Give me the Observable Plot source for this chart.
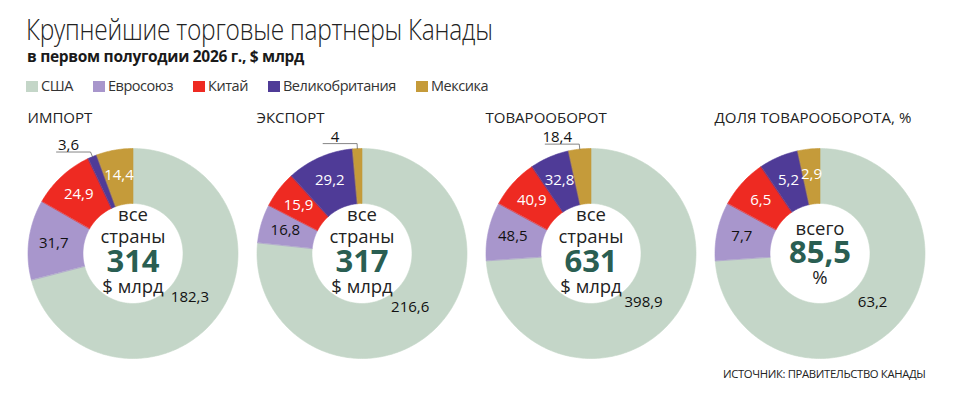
<!DOCTYPE html>
<html>
<head>
<meta charset="utf-8">
<script src="https://cdn.jsdelivr.net/npm/d3@7"></script>
<script src="https://cdn.jsdelivr.net/npm/@observablehq/plot@0.6"></script>
<style>
  html, body { margin: 0; padding: 0; background: #fff; }
  body { width: 960px; height: 403px; position: relative; overflow: hidden; font-family: "Open Sans", sans-serif; color: #1a1a1a; }
  .title { position: absolute; left: 26px; top: 14px; font-size: 29px; line-height: 1; font-weight: 300; letter-spacing: -0.3px; white-space: nowrap; color: #222; transform: scaleX(0.845); transform-origin: 0 0; }
  .subtitle { position: absolute; left: 27px; top: 49px; font-size: 15.5px; line-height: 1; font-weight: 700; letter-spacing: -0.3px; white-space: nowrap; }
  .legend { position: absolute; left: 26px; top: 78px; display: flex; gap: 20px; font-size: 14.5px; line-height: 16px; letter-spacing: -0.45px; white-space: nowrap; color: #333; }
  .legend .item { display: flex; align-items: center; gap: 3px; }
  .legend .sw { width: 12px; height: 11px; display: inline-block; }
  #chart { position: absolute; left: 0; top: 100px; }
  .source { position: absolute; left: 723px; top: 368px; font-size: 11.3px; line-height: 1; letter-spacing: -0.35px; white-space: nowrap; color: #222; }
</style>
</head>
<body>
<div class="title">Крупнейшие торговые партнеры Канады</div>
<div class="subtitle">в первом полугодии 2026 г., $ млрд</div>
<div class="legend" id="legend"></div>
<div id="chart"></div>
<div class="source">ИСТОЧНИК: ПРАВИТЕЛЬСТВО КАНАДЫ</div>
<script>
// ---- data ----
const partners = ["США", "Евросоюз", "Китай", "Великобритания", "Мексика"];
const partnerColors = ["#c4d6c8", "#a896cc", "#ee2a22", "#4f3b97", "#c59b3a"];
const panels = ["ИМПОРТ", "ЭКСПОРТ", "ТОВАРООБОРОТ", "ДОЛЯ ТОВАРООБОРОТА, %"];
const importValues = [182.3, 31.7, 24.9, 3.6, 14.4];
const exportValues = [216.6, 16.8, 15.9, 29.2, 4];
const tradeValues = [398.9, 48.5, 40.9, 32.8, 18.4];
const shareValues = [63.2, 7.7, 6.5, 5.2, 2.9];
const totalLabels = ["314", "317", "631", "85,5"];
const centerTopLines = [["все", "страны"], ["все", "страны"], ["все", "страны"], ["всего"]];
const centerBottomLines = ["$ млрд", "$ млрд", "$ млрд", "%"];

// ---- layout ----
const R_OUT = 105, R_IN = 50, R_LABEL = 80, R_LABEL_BIG = 72;
const darkPartners = new Set(["Китай", "Великобритания", "Мексика"]);
const fmt = v => String(v).replace(".", ",");
const panelValues = [importValues, exportValues, tradeValues, shareValues];

// legend
const legend = document.getElementById("legend");
partners.forEach((p, i) => {
  const it = document.createElement("div");
  it.className = "item";
  it.innerHTML = `<span class="sw" style="background:${partnerColors[i]}"></span><span>${p}</span>`;
  legend.appendChild(it);
});

// build slice polygons, labels, leaders
const slicePts = [];
const labelsIn = [];
const labelsOut = [];
const leaderPts = [];
panels.forEach((panel, pi) => {
  const vals = panelValues[pi];
  const sum = d3.sum(vals);
  let acc = 0;
  vals.forEach((v, i) => {
    const a0 = acc / sum * 2 * Math.PI;
    acc += v;
    const a1 = acc / sum * 2 * Math.PI;
    const key = panel + "|" + partners[i];
    const n = Math.max(2, Math.ceil((a1 - a0) / (Math.PI / 180)));
    for (let k = 0; k <= n; k++) {
      const a = a0 + (a1 - a0) * k / n;
      slicePts.push({panel, partner: partners[i], key, x: R_OUT * Math.sin(a), y: R_OUT * Math.cos(a)});
    }
    for (let k = n; k >= 0; k--) {
      const a = a0 + (a1 - a0) * k / n;
      slicePts.push({panel, partner: partners[i], key, x: R_IN * Math.sin(a), y: R_IN * Math.cos(a)});
    }
    const am = (a0 + a1) / 2;
    const frac = v / sum;
    const text = fmt(v);
    const outside = frac < 0.02 || (frac < 0.05 && text.length > 3);
    if (outside) {
      const ex = R_OUT * Math.sin(am), ey = R_OUT * Math.cos(am);
      const bx = (R_OUT + 5) * Math.sin(am), by = (R_OUT + 5) * Math.cos(am);
      leaderPts.push({panel, key, x: ex, y: ey});
      leaderPts.push({panel, key, x: bx, y: by});
      leaderPts.push({panel, key, x: bx - 34, y: by});
      labelsOut.push({panel, text, x: bx - 22, y: by + 2});
    } else {
      const r = frac > 0.5 ? R_LABEL_BIG : R_LABEL;
      labelsIn.push({panel, text, dark: darkPartners.has(partners[i]), x: r * Math.sin(am), y: r * Math.cos(am)});
    }
  });
});

// center texts
const centerSmall = [];
const centerBig = [];
panels.forEach((panel, pi) => {
  const top = centerTopLines[pi];
  if (top.length === 2) {
    centerSmall.push({panel, text: top[0], y: 38});
    centerSmall.push({panel, text: top[1], y: 16});
    centerBig.push({panel, text: totalLabels[pi], y: -9});
    centerSmall.push({panel, text: centerBottomLines[pi], y: -34});
  } else {
    centerSmall.push({panel, text: top[0], y: 24});
    centerBig.push({panel, text: totalLabels[pi], y: 0});
    centerSmall.push({panel, text: centerBottomLines[pi], y: -25});
  }
});

const chart = Plot.plot({
  width: 960,
  height: 303,
  marginTop: 0,
  marginBottom: 0,
  marginLeft: 17.5,
  marginRight: 26.5,
  fx: {domain: panels, axis: null, padding: 0},
  x: {domain: [-114.5, 114.5], axis: null},
  y: {domain: [-150, 153], axis: null},
  color: {domain: partners, range: partnerColors},
  style: {fontFamily: "Open Sans, sans-serif", background: "transparent", overflow: "visible"},
  marks: [
    Plot.line(slicePts, {fx: "panel", x: "x", y: "y", z: "key", fill: "partner", stroke: "partner", strokeWidth: 0.6, curve: "linear-closed"}),
    Plot.text(panels, {fx: d => d, text: d => d, frameAnchor: "top-left", lineAnchor: "bottom", textAnchor: "start", dx: 9, dy: 22, fontSize: 15, fill: "#222"}),
    Plot.text(labelsIn.filter(d => !d.dark), {fx: "panel", x: "x", y: "y", text: "text", fontSize: 15, fill: "#111"}),
    Plot.text(labelsIn.filter(d => d.dark), {fx: "panel", x: "x", y: "y", text: "text", fontSize: 15, fill: "#fff"}),
    Plot.line(leaderPts, {fx: "panel", x: "x", y: "y", z: "key", stroke: "#666", strokeWidth: 0.8}),
    Plot.text(labelsOut, {fx: "panel", x: "x", y: "y", text: "text", lineAnchor: "bottom", fontSize: 15, fill: "#111"}),
    Plot.text(centerSmall, {fx: "panel", x: 0, y: "y", text: "text", fontSize: 18.5, fill: "#222"}),
    Plot.text(centerBig, {fx: "panel", x: 0, y: "y", text: "text", fontSize: 31, fontWeight: 700, fill: "#2a5e52"})
  ]
});
document.getElementById("chart").appendChild(chart);
</script>
</body>
</html>
